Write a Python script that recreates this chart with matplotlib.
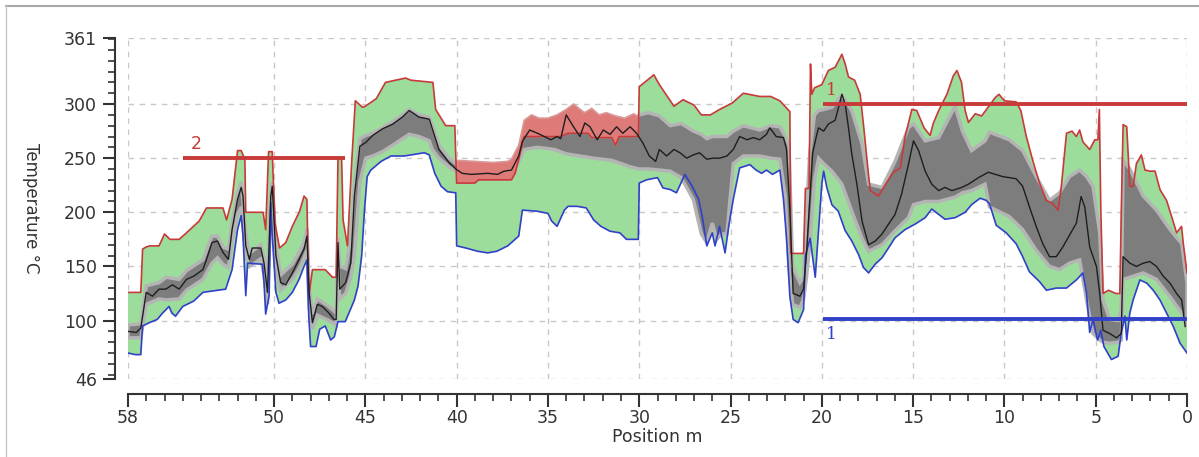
import matplotlib
matplotlib.use("Agg")
import matplotlib.pyplot as plt
from matplotlib.ticker import MultipleLocator, FixedLocator
from matplotlib.lines import Line2D
import numpy as np

# --- data: position (m) and temperatures (°C) ---
x_max = [58.0, 57.3, 57.2, 57.0, 56.8, 56.3, 56.0, 55.7, 55.2, 54.8, 54.1, 53.7, 52.8, 52.6,
         52.3, 52.0, 51.8, 51.6, 51.55, 50.6, 50.46, 50.3, 50.1, 49.95, 49.7, 49.36, 49.0,
         48.6, 48.36, 48.2, 48.1, 47.9, 47.2, 46.8, 46.6, 46.5, 46.3, 46.22, 45.98, 45.75,
         45.55, 45.16, 45.0, 44.4, 43.9, 42.8, 42.5, 41.3, 41.15, 40.6, 40.1, 40.0, 39.0,
         38.8, 37.0, 36.8, 36.6, 36.3, 34.3, 33.9, 32.8, 32.6, 31.5, 31.3, 31.1, 30.05,
         30.0, 29.2, 28.9, 28.1, 27.6, 27.0, 26.6, 26.1, 25.6, 24.9, 24.3, 23.4, 22.8, 22.3,
         21.75, 21.7, 21.0, 20.9, 20.7, 20.62, 20.55, 20.4, 20.0, 19.64, 19.27, 18.9, 18.72,
         18.54, 18.2, 17.9, 17.7, 17.5, 17.35, 16.9, 16.5, 16.08, 15.7, 15.45, 15.07, 14.8,
         14.4, 14.07, 13.9, 13.6, 13.15, 12.8, 12.6, 12.35, 12.15, 11.97, 11.6, 11.25, 10.9,
         10.5, 10.3, 10.0, 9.36, 9.1, 8.8, 8.45, 8.08, 7.7, 7.35, 7.07, 6.9, 6.6, 6.3, 6.06,
         5.88, 5.7, 5.33, 5.05, 4.88, 4.8, 4.72, 4.6, 4.3, 3.9, 3.68, 3.6, 3.5, 3.3, 3.13,
         2.95, 2.77, 2.5, 2.3, 2.03, 1.75, 1.48, 1.12, 0.84, 0.57, 0.3, 0.2, 0.0]
t_max = [126, 126, 166, 168, 169, 169, 180, 175, 175, 181, 192, 204, 204, 193,
         212, 257, 257, 249, 200, 200, 184, 256, 256, 190, 167, 172, 187,
         201, 215, 212, 122, 147, 147, 140, 140, 250, 250, 193, 169, 246,
         303, 297, 298, 305, 320, 324, 322, 320, 295, 280, 280, 227, 227,
         230, 230, 236, 249, 270, 270, 273, 273, 269, 269, 262, 270, 270,
         316, 327, 318, 298, 304, 299, 290, 290, 295, 301, 310, 307, 307, 303,
         293, 162, 162, 222, 222, 337, 309, 315, 318, 331, 334, 346, 337,
         325, 322, 309, 278, 244, 220, 215, 226, 237, 241, 269, 295, 294,
         278, 271, 282, 294, 309, 326, 331, 320, 294, 283, 291, 289, 297,
         306, 309, 303, 302, 294, 270, 248, 227, 211, 208, 202, 221, 273, 275, 270,
         276, 265, 258, 267, 267, 295, 202, 125, 128, 125, 125, 199, 281, 279, 224,
         224, 245, 253, 239, 238, 238, 221, 211, 196, 181, 187, 171, 144]

x_min = [58.0, 57.6, 57.3, 57.2, 56.84, 56.4, 56.1, 55.75, 55.6, 55.4, 55.0, 54.4, 53.9,
         53.5, 52.65, 52.3, 52.0, 51.8, 51.7, 51.55, 51.45, 50.64, 50.55, 50.46, 50.27,
         50.18, 50.1, 49.9, 49.73, 49.36, 49.0, 48.63, 48.36, 48.2, 48.1, 48.0, 47.7, 47.5,
         47.2, 46.9, 46.7, 46.5, 46.1, 45.6, 45.4, 45.2, 45.05, 44.9, 44.7, 44.14, 43.6,
         42.86, 41.77, 41.5, 41.2, 40.85, 40.5, 40.05, 40.0, 39.5, 38.85, 38.3, 37.8, 37.2,
         36.6, 36.4, 35.6, 35.0, 34.8, 34.5, 34.1, 33.9, 33.4, 32.9, 32.5, 32.1, 31.6,
         31.06, 30.7, 30.05, 30.0, 29.6, 29.0, 28.7, 28.3, 27.96, 27.5, 27.1, 26.75, 26.55,
         26.3, 26.0, 25.85, 25.6, 25.3, 25.1, 24.85, 24.5, 23.94, 23.6, 23.3, 23.03, 22.7,
         22.3, 22.1, 21.93, 21.75, 21.57, 21.3, 21.0, 20.9, 20.64, 20.36, 20.18, 20.0, 19.9,
         19.73, 19.45, 19.1, 18.72, 18.36, 17.99, 17.72, 17.44, 17.08, 16.7, 16.35, 15.99,
         15.44, 14.9, 14.34, 13.98, 13.6, 13.25, 12.7, 12.15, 11.8, 11.33, 11.0, 10.82,
         10.45, 9.9, 9.36, 9.0, 8.63, 8.08, 7.7, 7.16, 6.6, 6.06, 5.7, 5.5, 5.33, 5.15,
         4.9, 4.72, 4.55, 4.14, 3.77, 3.6, 3.4, 3.3, 3.13, 2.95, 2.58, 2.2, 1.85, 1.48,
         1.12, 0.75, 0.38, 0.0]
t_min = [70, 68.5, 68.5, 95, 98, 101, 107, 113, 107, 104, 113, 118, 126,
         127, 129, 147, 184, 197, 178, 123, 153, 152, 135, 106, 123,
         209, 178, 126, 116, 119, 126, 138, 150, 156, 104, 76, 76, 92,
         95, 82, 85, 99, 99, 119, 132, 160, 202, 233, 239, 247, 252,
         252, 255, 253, 236, 224, 219, 218, 169, 167, 164, 162.5, 164, 169,
         178, 202, 201, 199, 192, 187, 202, 205.5, 205.5, 204, 193, 187, 182.5,
         181, 175, 175, 227, 230, 232, 222.5, 221, 218, 235, 224, 212, 196,
         169, 181, 169, 187, 162.5, 187, 212, 241, 244, 239, 236, 239, 235,
         239, 212, 175, 122, 101, 98, 110, 160, 176, 140, 183, 226, 238,
         223, 207, 201, 183, 173.5, 161, 149, 144, 152, 158, 167, 176.5,
         184, 189, 195, 203, 198, 193.5, 195, 200, 207, 213, 211, 208,
         188, 181, 171, 159, 145, 136, 128, 130, 130, 137.5, 144, 125, 89, 101,
         82, 91, 76, 64, 67, 89, 104, 82, 107, 119, 137.5, 134.5, 128, 119,
         107, 94.5, 79, 70]

x_mean = [58.0, 57.55, 57.3, 57.0, 56.66, 56.3, 55.93, 55.57, 55.2, 54.8, 54.4, 53.9, 53.7,
          53.4, 53.1, 52.8, 52.5, 52.3, 52.0, 51.8, 51.7, 51.55, 51.35, 51.2, 50.73, 50.55,
          50.36, 50.18, 50.1, 49.9, 49.64, 49.36, 49.0, 48.63, 48.36, 48.2, 48.08, 47.9,
          47.63, 47.36, 47.0, 46.72, 46.6, 46.5, 46.4, 46.08, 45.8, 45.6, 45.3, 44.98, 44.6,
          44.07, 43.5, 42.97, 42.6, 42.06, 41.5, 41.33, 40.97, 40.42, 40.05, 39.7, 39.2,
          38.3, 37.76, 37.4, 37.0, 36.6, 36.4, 36.0, 35.57, 35.2, 34.84, 34.5, 34.3, 34.0,
          33.6, 33.25, 32.98, 32.7, 32.3, 31.97, 31.6, 31.24, 30.9, 30.5, 30.15, 29.8, 29.45,
          29.1, 28.9, 28.5, 28.1, 27.77, 27.4, 27.04, 26.7, 26.3, 25.95, 25.6, 25.2, 24.85,
          24.5, 24.1, 23.75, 23.4, 23.03, 22.85, 22.5, 22.1, 21.93, 21.75, 21.57, 21.2, 21.0,
          20.84, 20.66, 20.5, 20.3, 20.18, 19.9, 19.64, 19.27, 18.9, 18.72, 18.54, 18.36,
          18.08, 17.8, 17.44, 17.07, 16.7, 16.35, 15.99, 15.63, 15.26, 14.98, 14.7, 14.34,
          13.98, 13.6, 13.25, 12.88, 12.33, 11.97, 11.42, 10.88, 10.1, 9.36, 9.0, 8.63,
          8.26, 7.9, 7.53, 7.16, 6.8, 6.43, 6.06, 5.8, 5.6, 5.33, 4.96, 4.78, 4.6, 4.23,
          3.86, 3.6, 3.5, 3.13, 2.77, 2.4, 2.03, 1.67, 1.3, 0.93, 0.57, 0.29, 0.1]
t_mean = [90, 89, 93, 126, 122.5, 129, 129, 133, 129, 138, 141, 147, 156.5,
          172, 173.5, 163, 156.5, 184, 212, 223, 215, 169, 156.5, 167, 167, 153,
          126, 215, 224, 160, 135, 133, 144, 156.5, 166, 178, 126, 98,
          115, 113, 107, 101, 101, 172, 129, 135, 153, 215, 261, 264.5, 271,
          277, 281.5, 288, 294, 288, 286, 277, 258, 246, 240, 236, 235,
          236, 235, 238, 239, 252, 265.5, 276, 273, 270, 267, 270, 268, 290,
          279, 270, 282.5, 279, 267, 276, 272, 279, 273, 279, 273, 264, 252,
          247, 258, 252, 258, 255, 250, 253, 255, 249, 250, 250, 252, 258,
          270, 267, 269, 267, 272, 278, 270, 269, 258, 202, 125, 122.5, 129,
          162, 212, 255, 270, 278, 275, 281.5, 285, 309, 300, 278, 254,
          226, 192, 170, 173.5, 180, 189, 198, 217, 244, 266, 257, 238,
          226, 220, 223, 220, 223, 226, 232, 237, 233, 231, 224, 205,
          187, 171, 159, 159, 168, 179, 190, 214.5, 205, 168, 150, 125, 91, 88,
          84, 88, 159, 153, 150, 153, 154.5, 150, 141, 134.5, 125, 119, 94.5]

# interquartile-type band (dark grey)
x_band = [58.0, 57.3, 57.0, 56.3, 55.9, 55.2, 54.8, 53.9, 53.4, 53.1, 52.8, 52.5, 52.3, 52.0,
          51.8, 51.55, 51.35, 50.73, 50.55, 50.36, 50.18, 50.1, 49.9, 49.64, 49.0, 48.63,
          48.36, 48.2, 48.08, 47.9, 47.63, 47.0, 46.6, 46.5, 46.4, 46.08, 45.8, 45.6, 45.3,
          44.98, 44.6, 44.07, 43.5, 42.97, 42.6, 42.06, 41.5, 41.33, 40.97, 40.42, 40.05,
          40.0, 39.0, 37.0, 36.6, 36.3, 35.57, 34.65, 34.0, 33.25, 32.5, 31.5, 30.5, 30.0,
          29.5, 28.9, 28.3, 27.7, 27.04, 26.6, 26.3, 26.0, 25.75, 25.5, 25.2, 24.85, 24.3,
          23.4, 22.8, 22.3, 22.0, 21.8, 21.6, 21.2, 21.0, 20.84, 20.66, 20.4, 20.18, 19.9,
          19.45, 18.9, 18.36, 17.8, 17.44, 16.7, 15.99, 15.26, 14.98, 14.34, 13.6, 12.7,
          12.3, 11.8, 11.06, 10.82, 9.73, 9.0, 8.26, 7.53, 6.98, 6.43, 5.88, 5.5, 5.15, 4.78,
          4.6, 4.23, 3.77, 3.6, 3.5, 3.13, 2.4, 1.67, 0.93, 0.29, 0.0]
t_band_hi = [96, 97, 132, 135, 140, 138, 146, 156, 178, 178, 168, 166, 190, 218,
             228, 180, 162, 170, 158, 135, 220, 228, 170, 142, 152, 163,
             172, 185, 132, 106, 120, 113, 107, 176, 150, 148, 175, 225, 268,
             271, 273, 278, 284, 290, 295, 290, 288, 280, 262, 250, 245,
             246, 240, 243, 255, 272, 275, 278, 292, 285, 280, 282, 282, 290,
             292, 289, 280, 282, 275, 272, 268, 270, 270, 270, 270, 275, 280,
             276, 280, 279, 270, 262, 150, 135, 140, 200, 255, 290, 294, 295,
             297, 308, 294, 263, 226, 223, 247, 278, 282, 266, 269, 298,
             275, 257, 266, 274, 267, 257, 233, 211, 218, 233, 239, 233, 224, 181,
             119, 101, 100, 110, 248, 240, 215, 202, 184, 171, 135]
t_band_lo = [84, 84, 115, 120, 119, 120, 128, 138, 153, 158, 152, 149, 172, 198,
             205, 160, 150, 157, 142, 115, 205, 210, 150, 128, 138, 148,
             158, 165, 112, 92, 105, 100, 96, 150, 120, 125, 140, 160, 228,
             250, 252, 256, 262, 268, 272, 270, 266, 258, 250, 242, 238,
             238, 232, 235, 247, 258, 260, 258, 254, 252, 250, 248, 242, 240,
             240, 239, 238, 232, 212, 180, 172, 190, 175, 180, 180, 245, 252,
             252, 250, 249, 215, 150, 115, 112, 120, 140, 170, 230, 250, 245,
             238, 226, 201, 176, 164, 170, 183, 195, 207, 210, 210, 214,
             218, 220, 226, 205, 196, 184, 165, 150, 147, 153, 156, 119, 88, 82,
             80, 79, 80, 82, 138, 140, 144, 138, 122, 107, 95]

# section 40-30 m where the band rises above the max trace (red shading)
x_red = [40.0, 39.0, 38.0, 37.2, 37.0, 36.6, 36.3, 35.9, 35.5, 35.0, 34.5, 34.0, 33.6, 33.3,
         33.0, 32.6, 32.2, 31.8, 31.3, 30.8, 30.3, 30.05]
t_red = [248, 247, 246, 247, 249, 262, 285, 290, 287, 287, 290, 295, 300, 296,
         292, 296, 290, 292, 289, 287, 291, 288]

# alarm limits: (x start, x end, level, label)
limit_hi1 = (19.94, 0.0, 300, "1")
limit_hi2 = (55.0, 46.1, 250, "2")
limit_lo1 = (19.94, 0.0, 101, "1")

x_ticks = [58, 50, 45, 40, 35, 30, 25, 20, 15, 10, 5, 0]
y_ticks = [46, 100, 150, 200, 250, 300, 361]

# --- plotting ---
fig = plt.figure(figsize=(11.99, 4.57), dpi=100)
ax = fig.add_axes([128 / 1199, 1 - 379 / 457, (1187 - 128) / 1199, 341 / 457])

green = "#9cdd9c"
red = "#c83a3a"
blue = "#3040c8"

# min-max envelope
ax.fill(np.concatenate([x_max, x_min[::-1]]), np.concatenate([t_max, t_min[::-1]]),
        color=green, lw=0, zorder=2)
# grey band with lighter halo
ax.fill(np.concatenate([x_band, x_band[::-1]]), np.concatenate([t_band_hi, t_band_lo[::-1]]),
        facecolor="#7d7d7d", edgecolor="#b4b4b4", lw=2.5, zorder=3)
# red shading above the max trace between 40 and 30 m
xm = np.array(x_max)
tm = np.array(t_max)
sel = (xm <= 40.0) & (xm >= 30.05)
ax.fill(np.concatenate([x_red, xm[sel][::-1]]), np.concatenate([t_red, tm[sel][::-1]]),
        facecolor="#de7a78", edgecolor="#d89a98", lw=1.2, zorder=4)

ax.plot(x_max, t_max, color=red, lw=1.2, zorder=5)
ax.plot(x_min, t_min, color=blue, lw=1.2, zorder=5)
ax.plot(x_mean, t_mean, color="#1e1e1e", lw=1.0, zorder=6)

# limit lines
for (xa, xb, lvl, lab), col in [(limit_hi1, red), (limit_hi2, red), (limit_lo1, blue)]:
    ax.plot([xa, xb], [lvl, lvl], color=col, lw=2.8, zorder=7, solid_capstyle="butt")
ax.text(19.75, 305, limit_hi1[3], color=red, fontsize=12.5, family="DejaVu Serif",
        ha="left", va="bottom", zorder=8)
ax.text(54.55, 255, limit_hi2[3], color=red, fontsize=12.5, ha="left", va="bottom", zorder=8)
ax.text(19.75, 95, limit_lo1[3], color=blue, fontsize=12.5, family="DejaVu Serif",
        ha="left", va="top", zorder=8)

ax.set_xlim(58, 0)
ax.set_ylim(46, 361)

ax.xaxis.set_major_locator(FixedLocator(x_ticks))
ax.xaxis.set_minor_locator(MultipleLocator(1))
ax.yaxis.set_major_locator(FixedLocator(y_ticks))
ax.yaxis.set_minor_locator(FixedLocator(list(range(50, 361, 10))))

ax.grid(True, which="major", color="#c8c8c8", linestyle=(0, (4, 4)), lw=1.0, zorder=1)

for s in ["top", "right"]:
    ax.spines[s].set_visible(False)
ax.spines["left"].set_position(("outward", 9.5))
ax.spines["bottom"].set_position(("outward", 10.5))
for s in ["left", "bottom"]:
    ax.spines[s].set_color("#333333")
    ax.spines[s].set_linewidth(1.5)

ax.tick_params(which="major", length=9, width=1.5, color="#333333", labelsize=12.5,
               labelcolor="#333333")
ax.tick_params(which="minor", length=5, width=1.2, color="#333333")
ax.tick_params(axis="y", pad=4)
ax.tick_params(axis="x", pad=2)

ax.set_xlabel("Position m", fontsize=12.5, color="#333333", labelpad=1)
ax.set_ylabel("Temperature °C", fontsize=12, color="#333333", rotation=270, va="center")
ax.yaxis.set_label_coords(-0.092, 0.5)

# outer frame (top and left edge)
fig.add_artist(Line2D([6 / 1199, 1.0], [1 - 6 / 457, 1 - 6 / 457], transform=fig.transFigure,
                      color="#a8a8a8", lw=1.5))
fig.add_artist(Line2D([6 / 1199, 6 / 1199], [0.0, 1 - 6 / 457], transform=fig.transFigure,
                      color="#c8c8c8", lw=1.0))

fig.savefig("out.png", dpi=100)
